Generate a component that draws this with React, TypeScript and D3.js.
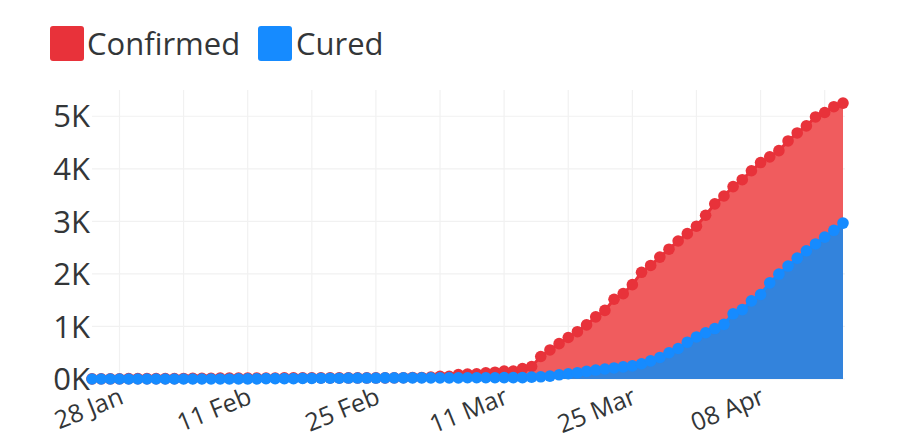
import React from 'react';
import * as d3 from 'd3';

const dates: string[] = [
  '25 Jan','26 Jan','27 Jan','28 Jan','29 Jan','30 Jan','31 Jan',
  '01 Feb','02 Feb','03 Feb','04 Feb','05 Feb','06 Feb','07 Feb','08 Feb','09 Feb','10 Feb',
  '11 Feb','12 Feb','13 Feb','14 Feb','15 Feb','16 Feb','17 Feb','18 Feb','19 Feb','20 Feb',
  '21 Feb','22 Feb','23 Feb','24 Feb','25 Feb','26 Feb','27 Feb','28 Feb',
  '01 Mar','02 Mar','03 Mar','04 Mar','05 Mar','06 Mar','07 Mar','08 Mar','09 Mar','10 Mar',
  '11 Mar','12 Mar','13 Mar','14 Mar','15 Mar','16 Mar','17 Mar','18 Mar','19 Mar','20 Mar',
  '21 Mar','22 Mar','23 Mar','24 Mar','25 Mar','26 Mar','27 Mar','28 Mar','29 Mar','30 Mar','31 Mar',
  '01 Apr','02 Apr','03 Apr','04 Apr','05 Apr','06 Apr','07 Apr','08 Apr','09 Apr','10 Apr',
  '11 Apr','12 Apr','13 Apr','14 Apr','15 Apr','16 Apr','17 Apr',
];

const confirmed: number[] = [
  3, 4, 4, 4, 7, 8, 8,
  8, 8, 8, 10, 12, 12, 14, 16, 16, 18,
  18, 18, 19, 19, 22, 22, 22, 22, 22, 22,
  22, 22, 22, 22, 22, 22, 23, 25,
  29, 29, 36, 50, 50, 83, 93, 99, 117, 129,
  149, 149, 197, 238, 428, 553, 673, 790, 900, 1030,
  1183, 1306, 1518, 1624, 1796, 2031, 2161, 2320, 2470, 2626, 2766,
  2908, 3116, 3333, 3483, 3662, 3793, 3963, 4119, 4228, 4346,
  4530, 4683, 4817, 4987, 5072, 5182, 5251,
];

const cured: number[] = [
  0, 0, 0, 0, 0, 0, 0,
  0, 0, 0, 0, 0, 0, 1, 1, 1, 3,
  3, 3, 7, 7, 7, 7, 12, 12, 15, 15,
  15, 18, 18, 18, 18, 22, 22, 22,
  22, 22, 22, 22, 22, 22, 24, 24, 24, 24,
  26, 26, 27, 35, 42, 55, 80, 100, 120, 145,
  170, 190, 210, 230, 250, 290, 345, 410, 500, 580, 700,
  800, 880, 960, 1040, 1241, 1321, 1487, 1608, 1830, 1995,
  2150, 2300, 2440, 2570, 2700, 2830, 2967,
];

const yTicks: number[] = [0, 1000, 2000, 3000, 4000, 5000];
const xTickLabels: string[] = ['28 Jan', '11 Feb', '25 Feb', '11 Mar', '25 Mar', '08 Apr'];
const gridLabels: string[] = [
  '28 Jan','04 Feb','11 Feb','18 Feb','25 Feb','04 Mar','11 Mar','18 Mar','25 Mar','01 Apr','08 Apr','15 Apr',
];
const seriesNames: string[] = ['Confirmed', 'Cured'];

const FONT = '"Open Sans", "Noto Sans", sans-serif';
const TEXT = '#333638';
const RED_FILL = '#f05c5e';
const RED = '#e8323a';
const BLUE_FILL = '#3383dc';
const BLUE = '#168bff';

export default function App() {
  const W = 900;
  const H = 442;
  const left = 92;
  const right = 843;
  const top = 90;
  const bottom = 379;
  const n = dates.length;

  const x = d3.scaleLinear().domain([0, n - 1]).range([left, right]);
  const y = d3.scaleLinear().domain([0, 5500]).range([bottom, top]);

  const area = d3
    .area<number>()
    .x((_, i) => x(i))
    .y0(y(0))
    .y1((d) => y(d));
  const line = d3
    .line<number>()
    .x((_, i) => x(i))
    .y((d) => y(d));

  const gridIdx = gridLabels.map((l) => dates.indexOf(l)).filter((i) => i >= 0);
  const tickIdx = xTickLabels.map((l) => dates.indexOf(l));

  return (
    <svg
      width={W}
      height={H}
      style={{ position: 'absolute', left: 0, top: 0, background: '#fff' }}
      fontFamily={FONT}
    >
      {/* grid */}
      <g stroke="#f1f1f1" strokeWidth={1.2}>
        {yTicks.map((t) => (
          <line key={'h' + t} x1={left} x2={right + 2} y1={y(t)} y2={y(t)} />
        ))}
        {gridIdx.map((i) => (
          <line key={'v' + i} x1={x(i)} x2={x(i)} y1={top} y2={bottom} />
        ))}
      </g>

      {/* areas */}
      <path d={area(confirmed) || ''} fill={RED_FILL} />
      <path d={area(cured) || ''} fill={BLUE_FILL} />

      {/* lines + markers */}
      <path d={line(confirmed) || ''} fill="none" stroke={RED} strokeWidth={3} />
      <g fill={RED}>
        {confirmed.map((v, i) => (
          <circle key={'c' + i} cx={x(i)} cy={y(v)} r={5.8} />
        ))}
      </g>
      <path d={line(cured) || ''} fill="none" stroke={BLUE} strokeWidth={3} />
      <g fill={BLUE}>
        {cured.map((v, i) => (
          <circle key={'r' + i} cx={x(i)} cy={y(v)} r={5.8} />
        ))}
      </g>

      {/* y axis labels */}
      <g fill={TEXT} fontSize={31} textAnchor="end">
        {yTicks.map((t) => (
          <text key={'yl' + t} x={90} y={y(t)} dy="0.36em">
            {d3.format('d')(t / 1000) + 'K'}
          </text>
        ))}
      </g>

      {/* x axis labels */}
      <g fill={TEXT} fontSize={25} textAnchor="end">
        {tickIdx.map((i, k) => {
          const ax = x(i) + 5.5;
          const ay = 403;
          return (
            <text key={'xl' + k} x={ax} y={ay} transform={`rotate(-22 ${ax} ${ay})`}>
              {xTickLabels[k]}
            </text>
          );
        })}
      </g>

      {/* legend */}
      <g fontSize={31} fill={TEXT}>
        <rect x={50} y={26} width={34} height={35} rx={3} fill={RED} />
        <text x={87} y={55}>{seriesNames[0]}</text>
        <rect x={258} y={26} width={34} height={35} rx={3} fill={BLUE} />
        <text x={296} y={55}>{seriesNames[1]}</text>
      </g>
    </svg>
  );
}
